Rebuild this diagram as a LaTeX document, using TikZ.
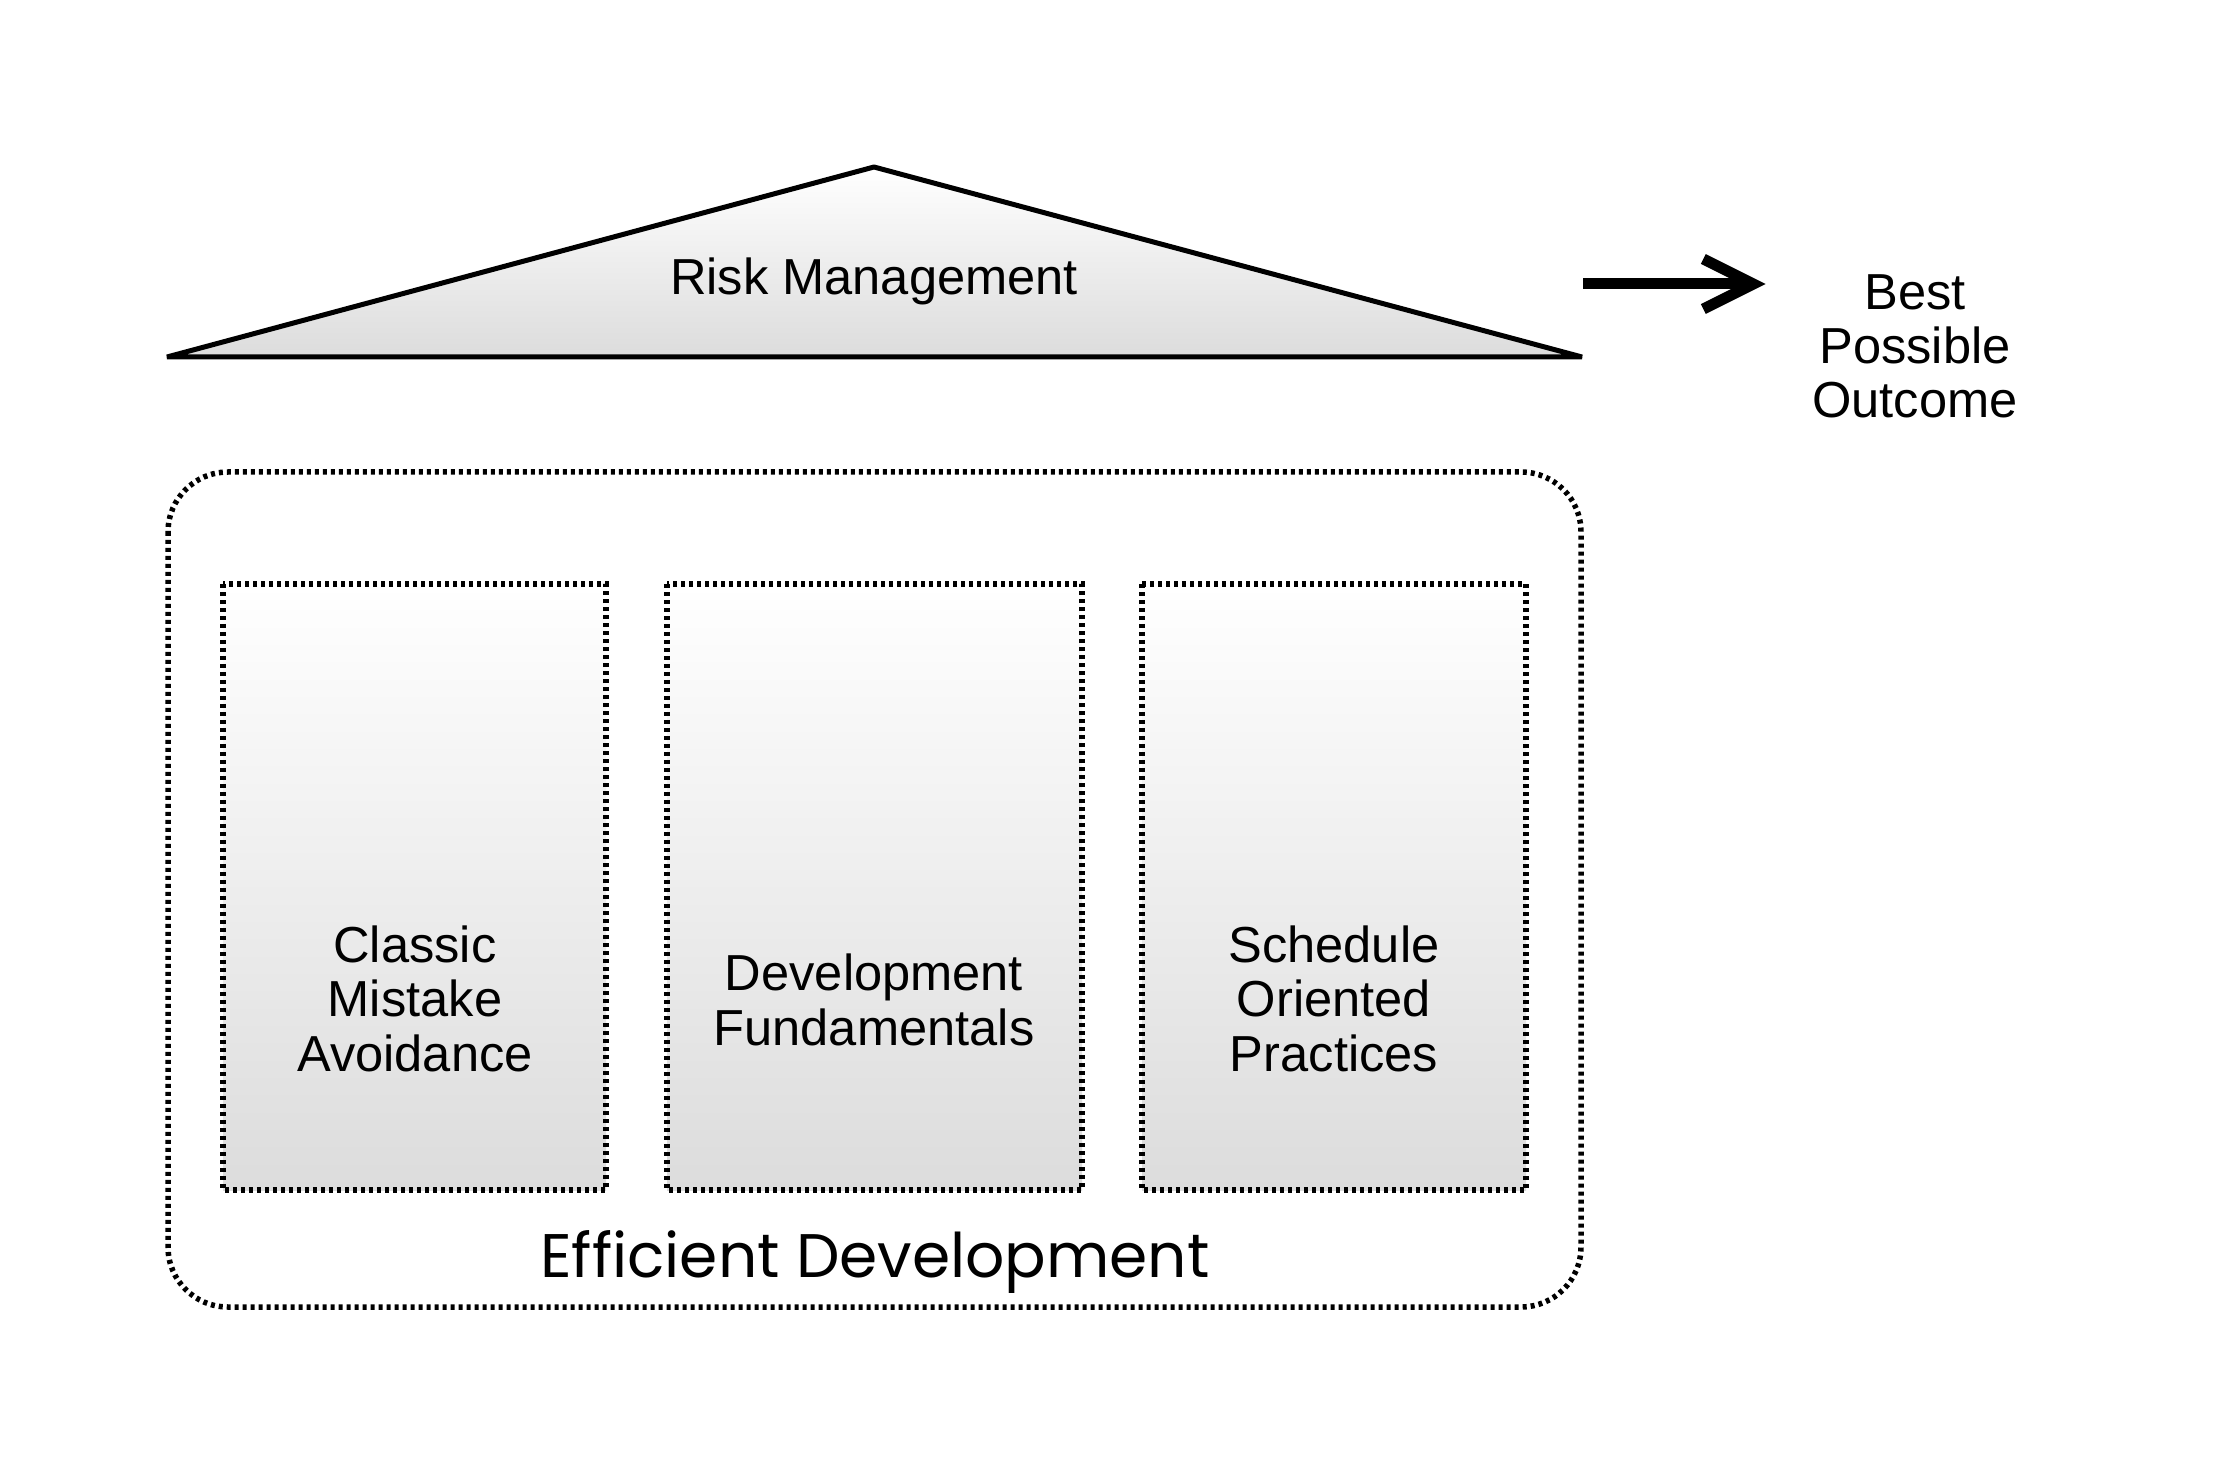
\documentclass[tikz,border=0pt]{standalone}
\usepackage{fontspec}
\setmainfont{Liberation Sans}
\newfontfamily\gothic{Poppins}
\usepackage{tikz}
\usetikzlibrary{arrows.meta}
\usetikzlibrary{calc}
\definecolor{pillarlow}{HTML}{DCDCDC}
\tikzset{
  dotline/.style={line width=0.55mm, dash pattern=on 0.4mm off 0.4mm},
  pillar/.style={dotline, top color=white, bottom color=pillarlow},
  txt/.style={font=\fontsize{14.4}{15.5}\selectfont, align=center, inner sep=0pt, anchor=base}
}

\begin{document}
\begin{tikzpicture}[x=0.1mm, y=-0.1mm] % Roof on three pillars

      \useasboundingbox (0,0) rectangle (2235,1477);
      \coordinate (roofL) at (167,357);
      \coordinate (roofT) at (874,167);
      \coordinate (roofR) at (1582,357);
      \shade [draw, line width=0.5mm, line join=bevel, top color=white, bottom color=pillarlow]
      (roofL) -- (roofT) -- (roofR) -- cycle;
      \node [txt] (risk) at (874,295) {Risk Management};

      \node [txt] (outcome) at (1915,418) {Best\\Possible\\Outcome};
      \coordinate (arrowstart) at (1583,284);
      \draw [line width=1.1mm, -{Straight Barb[length=5mm, width=5mm]}, shorten >=4.6mm]
      (arrowstart) -- (arrowstart -| outcome.west);

      \draw [dotline, rounded corners=6mm] (168,472) rectangle (1581,1307);
      \draw [pillar] (223,584) rectangle (606,1190);
      \draw [pillar] (667,584) rectangle (1082,1190);
      \draw [pillar] (1142,584) rectangle (1526,1190);
      \node [txt] (classic) at (415,1071) {Classic\\Mistake\\Avoidance};
      \node [txt] (fundamentals) at (874,1045) {Development\\Fundamentals};
      \node [txt] (schedule) at (1334,1071) {Schedule\\Oriented\\Practices};
      \node [txt, font=\gothic\fontsize{17.5}{20}\selectfont] (efficient) at (875,1277) {Efficient Development};

    \end{tikzpicture}
\end{document}
